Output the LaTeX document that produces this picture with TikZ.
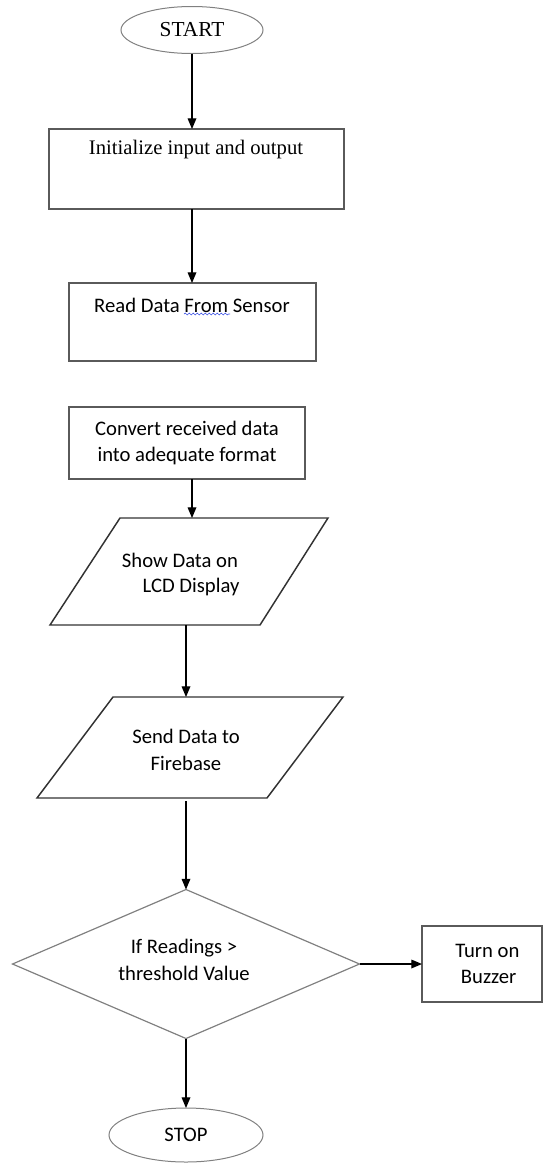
\documentclass[tikz,border=0pt]{standalone}
\usepackage{fontspec}
\setmainfont{Liberation Serif}
\newfontfamily\calfont{Carlito}
\usetikzlibrary{shapes.geometric,arrows.meta,decorations.pathmorphing}
\definecolor{termgray}{RGB}{128,128,128}
\definecolor{boxgray}{RGB}{90,90,90}
\definecolor{iogray}{RGB}{50,50,50}
\definecolor{spellblue}{RGB}{70,90,230}

\begin{document}
\begin{tikzpicture}[x=0.75pt,y=-0.75pt,
  every node/.style={inner sep=0pt, outer sep=0pt},
  term/.style={ellipse, draw=termgray, line width=0.75pt,
    font=\fontsize{16}{20}\selectfont},
  procbox/.style={rectangle, draw=boxgray, line width=0.9pt},
  iobox/.style={draw=iogray, line width=1.1pt, line join=miter},
  decide/.style={diamond, draw=termgray, line width=0.9pt},
  flow/.style={-{Triangle[length=8pt,width=6.5pt]}, line width=0.9pt, black},
  cal/.style={font=\calfont\fontsize{15.5}{20}\selectfont, align=center},
  serif/.style={font=\fontsize{15.5}{20}\selectfont, align=center}
]
\useasboundingbox (0,0) rectangle (544,1164);

% terminals
\node[term, minimum width=142*0.75pt, minimum height=47*0.75pt] (start) at (192,30) {START};
\node[term, minimum width=154*0.75pt, minimum height=54*0.75pt, font=\calfont\fontsize{15.5}{20}\selectfont] (stop) at (186,1135) {STOP};

% process boxes
\node[procbox, minimum width=295*0.75pt, minimum height=80*0.75pt] (init) at (196.5,169) {};
\node[serif] (initlbl) at (196,150) {Initialize input and output};

\node[procbox, minimum width=247*0.75pt, minimum height=78*0.75pt] (read) at (192.5,322) {};
\node[cal] (readlbl) at (192,305) {Read Data From Sensor};
\draw[spellblue, line width=0.5pt, decorate,
  decoration={snake, amplitude=0.7pt, segment length=3pt}] (184,314) -- (230,314);

\node[procbox, cal, minimum width=236*0.75pt, minimum height=72*0.75pt] (conv) at (187,443)
  {Convert received data\\into adequate format};

\node[procbox, cal, minimum width=120*0.75pt, minimum height=76*0.75pt] (buzz) at (482,964)
  {\hspace*{8pt}Turn on\\\hspace*{10pt}Buzzer};

% input/output parallelograms
\draw[iobox] (120,518) -- (328,518) -- (260,625) -- (50,625) -- cycle;
\coordinate (p1in) at (192,518);
\coordinate (p1out) at (186,625);
\node[cal] (p1a) at (180,560) {Show Data on};
\node[cal] (p1b) at (191,587) {LCD Display};

\draw[iobox] (113,697) -- (343,697) -- (267,798) -- (37,798) -- cycle;
\coordinate (p2in) at (186,697);
\coordinate (p2out) at (186,801);
\node[cal] (p2lbl) at (186,750) {Send Data to\\Firebase};

% decision
\node[decide, minimum width=347*0.75pt, minimum height=149*0.75pt] (dec) at (186,964) {};
\node[cal] (declbl) at (184,960) {If Readings >\\threshold Value};

% connectors
\draw[flow] (start.south) -- (start.south |- init.north);
\draw[flow] (start.south |- init.south) -- (start.south |- read.north);
\draw[flow] (start.south |- conv.south) -- (p1in);
\draw[flow] (p1out) -- (p2in);
\draw[flow] (p2out) -- (dec.north);
\draw[flow] (dec.east) -- (buzz.west);
\draw[flow] (dec.south) -- (stop.north);
\end{tikzpicture}
\end{document}
